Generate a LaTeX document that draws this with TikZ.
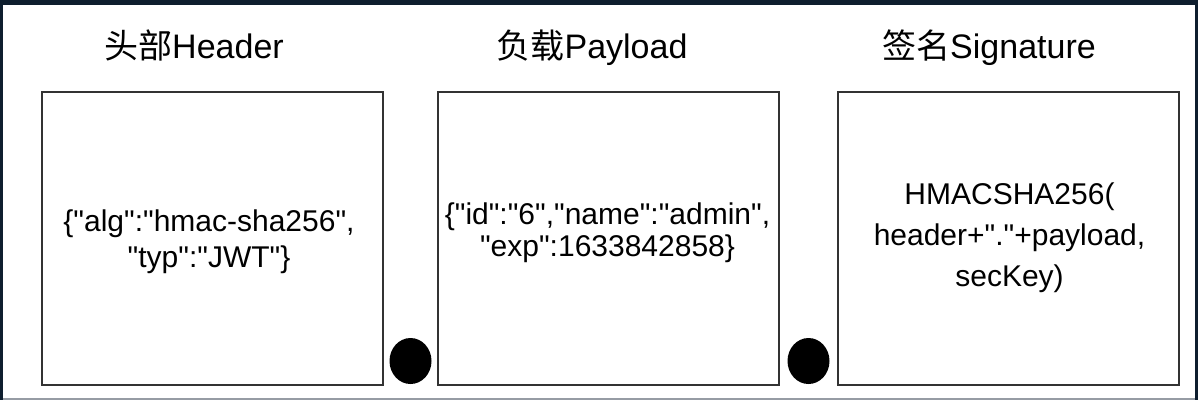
\documentclass[tikz,border=0pt]{standalone}
\usepackage{fontspec}
\setmainfont{Liberation Sans}[Ligatures=TeXOff]
\newfontfamily\cjk{Noto Sans CJK SC}
\usetikzlibrary{positioning,shapes.geometric}

\definecolor{framenavy}{RGB}{14,30,46}
\definecolor{edgegray}{RGB}{150,156,164}

\tikzset{
	part/.style={draw=black!80, line width=2pt, minimum width=341pt, minimum height=293pt, inner sep=0pt},
	title/.style={font=\fontsize{34}{40}\selectfont, anchor=base, inner sep=0pt},
	content/.style={align=center, inner sep=0pt},
	dot/.style={ellipse, fill=black, minimum width=42pt, minimum height=46pt, inner sep=0pt}
}

\begin{document}
\begin{tikzpicture}[x=1pt, y=-1pt]

		% Frame
		\fill[framenavy] (0,0) rectangle (1198,400);
		\fill[edgegray] (3,396) rectangle (1195,400);
		\fill[white] (3,5) rectangle (1195,398);
		\useasboundingbox (0,0) rectangle (1198,400);

		% Three parts
		\node[part] (header) at (212.5,238.5) {};
		\node[part] (payload) at (608.5,238.5) {};
		\node[part] (signature) at (1008.5,238.5) {};

		\node[title] (headertitle) at (194,58) {{\cjk 头部}Header};
		\node[title] (payloadtitle) at (592,58) {{\cjk 负载}Payload};
		\node[title] (signaturetitle) at (989,58) {{\cjk 签名}Signature};

		\node[content, font=\fontsize{30}{36}\selectfont] (headertext) at (209,242)
			{\{"alg":"hmac-sha256",\\"typ":"JWT"\}};
		\node[content, font=\fontsize{30}{32}\selectfont] (payloadtext) at (607.5,233)
			{\{"id":"6","name":"admin",\\"exp":1633842858\}};
		\node[content, font=\fontsize{30}{41}\selectfont] (signaturetext) at (1009.5,238)
			{HMACSHA256(\\header+"."+payload,\\secKey)};

		% Dots between the parts
		\node[dot] (dotone) at (410.5,361) {};
		\node[dot] (dottwo) at (808.5,361) {};

	\end{tikzpicture}
\end{document}
